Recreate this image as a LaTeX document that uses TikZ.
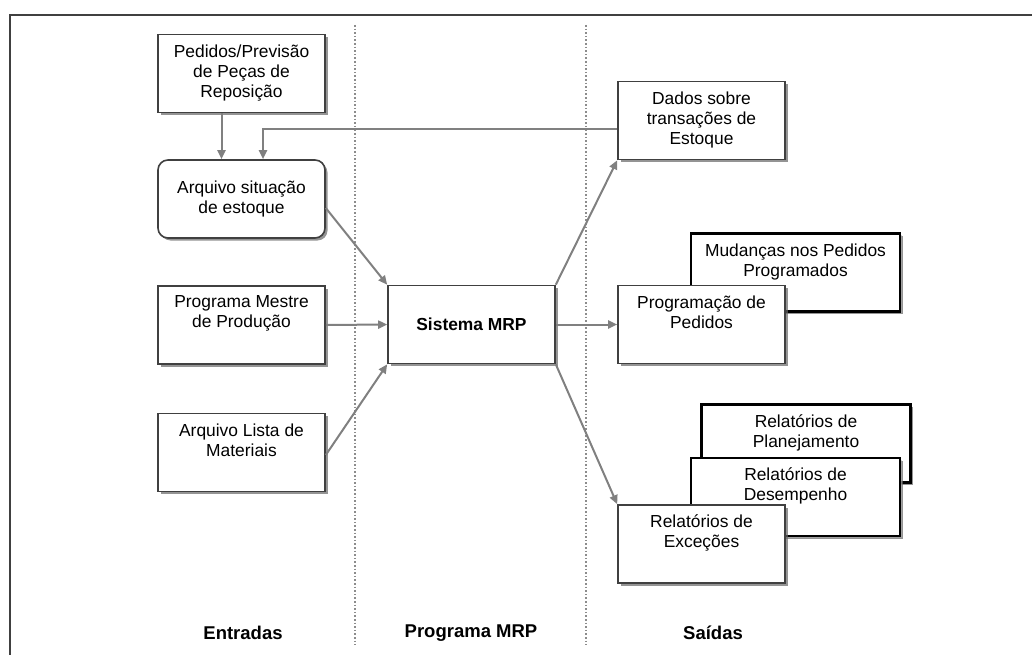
\documentclass[tikz,border=0pt]{standalone}
\usepackage{fontspec}
\setmainfont{Liberation Sans}
\usetikzlibrary{arrows.meta, shadows}

\newcommand{\toptext}[2][160pt]{\parbox[c][58pt][t]{#1}{\centering #2}}

\begin{document}
\begin{tikzpicture}[
    x=1pt, y=-1pt,
    box/.style={draw=black!75, line width=1.6pt, fill=white, minimum width=167pt, minimum height=78pt,
        inner xsep=3pt, inner ysep=9pt, align=center, font=\fontsize{17.4}{20}\selectfont,
        drop shadow={shadow xshift=2.5pt, shadow yshift=-2.5pt, fill=black!60, opacity=0.7}},
    backbox/.style={box, draw=black, line width=2.2pt, minimum width=209pt,
        drop shadow={shadow xshift=1.5pt, shadow yshift=-1.5pt, fill=black!30, opacity=0.5}},
    arrow/.style={-{Triangle[length=9pt, width=8pt]}, draw=black!50, line width=2pt},
    divider/.style={dotted, draw=black!45, line width=1.6pt},
    column/.style={font=\bfseries\fontsize{18.5}{22}\selectfont}
]
    \useasboundingbox (0,0) rectangle (1032,655);
    \clip (0,0) rectangle (1032,655);

    % === Frame and columns ===
    \draw[draw=black!75, line width=2.5pt] (10,15) rectangle (1060,690);
    \draw[divider] (355,25) -- (355,645);
    \draw[divider] (586,25) -- (586,645);

    \node[column] (entradas) at (243,633) {Entradas};
    \node[column] (programa) at (471,633) {Programa MRP};
    \node[column] (saidas) at (713,633) {Saídas};

    % === Entradas ===
    \node[box] (pedidos) at (241.5,73.5) {Pedidos/Previsão\\de Peças de\\Reposição};
    \node[box, rounded corners=10pt] (arquivo) at (241.5,199) {Arquivo situação\\de estoque};
    \node[box] (mestre) at (241.5,325) {\toptext{Programa Mestre\\de Produção}};
    \node[box] (lista) at (241.5,452.5) {\toptext{Arquivo Lista de\\Materiais}};

    % === Programa MRP ===
    \node[box, font=\bfseries\fontsize{17.4}{20}\selectfont] (mrp) at (471.5,324.5) {Sistema MRP};

    % === Saidas ===
    \node[box] (dados) at (701.5,120.5) {Dados sobre\\transações de\\Estoque};
    \node[backbox] (mudancas) at (795.5,272.5) {\toptext[196pt]{Mudanças nos Pedidos\\Programados}};
    \node[box] (programacao) at (701.5,324.5) {\toptext{Programação de\\Pedidos}};
    \node[backbox] (planejamento) at (806,443.5) {\toptext[196pt]{Relatórios de\\Planejamento}};
    \node[backbox] (desempenho) at (795.5,497) {\toptext[196pt]{Relatórios de\\Desempenho}};
    \node[box] (excecoes) at (701.5,544) {\toptext{Relatórios de\\Exceções}};

    % === Connectors ===
    \draw[arrow] ([xshift=-20pt]pedidos.south) -- ([xshift=-20pt]arquivo.north);
    \draw[arrow] ([yshift=-8.5pt]dados.west) -| ([xshift=21.5pt]arquivo.north);
    \draw[arrow] ([yshift=-9pt]arquivo.east) -- (mrp.north west);
    \draw[arrow] (mestre.east) -- (mrp.west);
    \draw[arrow] ([yshift=-2.5pt]lista.east) -- (mrp.south west);
    \draw[arrow] (mrp.north east) -- (dados.south west);
    \draw[arrow] (mrp.east) -- (programacao.west);
    \draw[arrow] (mrp.south east) -- (excecoes.north west);

\end{tikzpicture}
\end{document}
